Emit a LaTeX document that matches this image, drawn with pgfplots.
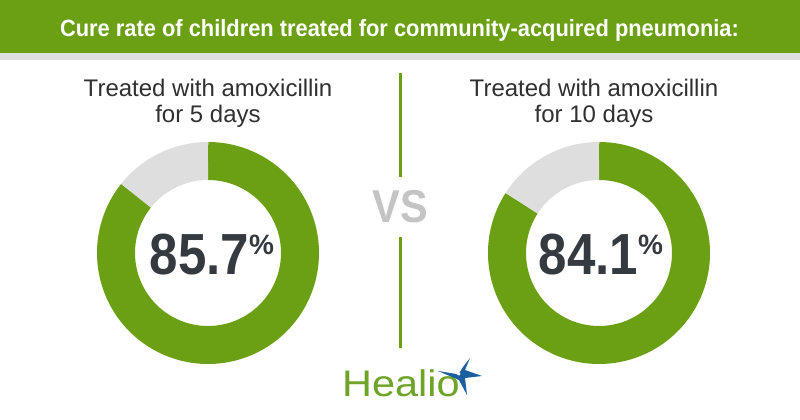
\documentclass[border=0pt]{standalone}
\usepackage{pgfplots}
\pgfplotsset{compat=1.18}
\usepgfplotslibrary{polar}
\usepackage{fontspec}
\setmainfont{Liberation Sans}
\definecolor{hgreen}{RGB}{107,160,21}
\definecolor{ringgray}{RGB}{222,222,222}
\definecolor{stripgray}{RGB}{224,224,224}
\definecolor{subtxt}{RGB}{48,48,48}
\definecolor{pcttxt}{RGB}{52,58,64}
\definecolor{vsgray}{RGB}{196,196,196}
\definecolor{logogreen}{RGB}{110,164,40}
\definecolor{logoblue}{RGB}{28,95,160}
\begin{document}
\begin{tikzpicture}[x=1pt,y=1pt]
\path[use as bounding box] (0,0) rectangle (800,420);
\fill[white] (0,0) rectangle (800,420);
% title band
\fill[hgreen] (0,367) rectangle (800,420);
\fill[stripgray] (0,360) rectangle (800,367);
\node[anchor=base, text=white, inner sep=0] at (399.5,383)
  {\scalebox{0.93}[1]{\fontsize{23.5}{23.5}\selectfont\bfseries Cure rate of children treated for community-acquired pneumonia:}};
% subtitles
\node[anchor=base, text=subtxt, inner sep=0] at (208,323) {\fontsize{24}{24}\selectfont Treated with amoxicillin};
\node[anchor=base, text=subtxt, inner sep=0] at (208,297) {\fontsize{24}{24}\selectfont for 5 days};
\node[anchor=base, text=subtxt, inner sep=0] at (594,323) {\fontsize{24}{24}\selectfont Treated with amoxicillin};
\node[anchor=base, text=subtxt, inner sep=0] at (594,297) {\fontsize{24}{24}\selectfont for 10 days};
% divider and VS
\draw[hgreen, line width=3] (400,347) -- (400,243);
\draw[hgreen, line width=3] (400,183) -- (400,72);
\node[anchor=center, text=vsgray, inner sep=0] at (400,213)
  {\scalebox{0.9}[1]{\fontsize{46}{46}\selectfont\bfseries VS}};
% left donut: 85.7% cured
\begin{polaraxis}[at={(208,167)}, anchor=center, scale only axis,
  width=222, height=222, xmin=0, xmax=360, ymin=0, ymax=111, hide axis,
  clip=false]
  \addplot[draw=hgreen, line width=38, no marks, samples=200, domain={90-3.6*85.7}:90] {92};
  \addplot[draw=ringgray, line width=38, no marks, samples=60, domain=90:{90+3.6*(100-85.7)}] {92};
\end{polaraxis}
% right donut: 84.1% cured
\begin{polaraxis}[at={(599,167)}, anchor=center, scale only axis,
  width=222, height=222, xmin=0, xmax=360, ymin=0, ymax=111, hide axis,
  clip=false]
  \addplot[draw=hgreen, line width=38, no marks, samples=200, domain={90-3.6*84.1}:90] {92};
  \addplot[draw=ringgray, line width=38, no marks, samples=60, domain=90:{90+3.6*(100-84.1)}] {92};
\end{polaraxis}
% percentages
\node[anchor=base, text=pcttxt, inner sep=0] at (212,145)
  {\scalebox{0.88}[1]{\fontsize{58}{58}\selectfont\bfseries 85.7}\raisebox{20pt}{\fontsize{28}{28}\selectfont\bfseries\%}};
\node[anchor=base, text=pcttxt, inner sep=0] at (601,145)
  {\scalebox{0.88}[1]{\fontsize{58}{58}\selectfont\bfseries 84.1}\raisebox{20pt}{\fontsize{28}{28}\selectfont\bfseries\%}};
% logo
\node[anchor=base west, text=logogreen, inner sep=0] at (342,23)
  {\scalebox{1.12}[1]{\fontsize{37}{37}\selectfont Healio}};
\fill[logoblue] (458,45) -- (463,53) -- (470,62) -- (465,50) -- (482,44) -- (465,42) -- (467,25) -- (459,40) -- (438,49) -- (456,46) -- cycle;
\fill[white] (459,46) circle (1.6);
\end{tikzpicture}
\end{document}
